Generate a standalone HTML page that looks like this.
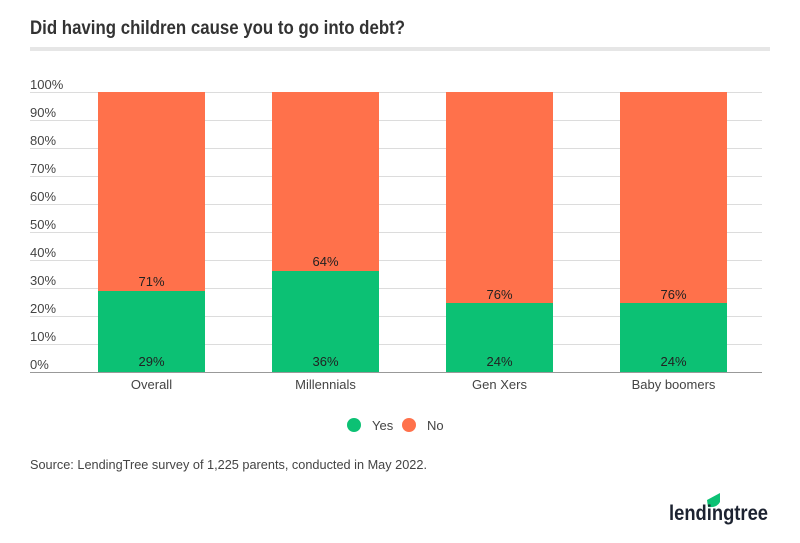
<!DOCTYPE html>
<html><head><style>
body{margin:0;width:800px;height:538px;background:#fff;font-family:"Liberation Sans",sans-serif;overflow:hidden}
</style></head><body>
<svg width="800" height="538" xmlns="http://www.w3.org/2000/svg" font-family="Liberation Sans, sans-serif">
<text x="30" y="34" font-size="19" font-weight="bold" fill="#333" textLength="375" lengthAdjust="spacingAndGlyphs">Did having children cause you to go into debt?</text>
<rect x="30" y="47" width="740" height="4" fill="#e6e6e6"/>
<g stroke="#dcdcdc" stroke-width="1">
<line x1="30" x2="762" y1="92.5" y2="92.5"/><line x1="30" x2="762" y1="120.5" y2="120.5"/>
<line x1="30" x2="762" y1="148.5" y2="148.5"/><line x1="30" x2="762" y1="176.5" y2="176.5"/>
<line x1="30" x2="762" y1="204.5" y2="204.5"/><line x1="30" x2="762" y1="232.5" y2="232.5"/>
<line x1="30" x2="762" y1="260.5" y2="260.5"/><line x1="30" x2="762" y1="288.5" y2="288.5"/>
<line x1="30" x2="762" y1="316.5" y2="316.5"/><line x1="30" x2="762" y1="344.5" y2="344.5"/>
</g>
<g font-size="13" fill="#444">
<text x="30" y="89">100%</text><text x="30" y="117">90%</text><text x="30" y="145">80%</text>
<text x="30" y="173">70%</text><text x="30" y="201">60%</text><text x="30" y="229">50%</text>
<text x="30" y="257">40%</text><text x="30" y="285">30%</text><text x="30" y="313">20%</text>
<text x="30" y="341">10%</text><text x="30" y="369">0%</text>
</g>
<g>
<rect x="98" y="92" width="107" height="199" fill="#ff714b"/><rect x="98" y="291" width="107" height="81" fill="#0cc174"/>
<rect x="272" y="92" width="107" height="179" fill="#ff714b"/><rect x="272" y="271" width="107" height="101" fill="#0cc174"/>
<rect x="446" y="92" width="107" height="211" fill="#ff714b"/><rect x="446" y="303" width="107" height="69" fill="#0cc174"/>
<rect x="620" y="92" width="107" height="211" fill="#ff714b"/><rect x="620" y="303" width="107" height="69" fill="#0cc174"/>
</g>
<line x1="30" x2="762" y1="372.5" y2="372.5" stroke="#999"/>
<g font-size="13" fill="#222" text-anchor="middle">
<text x="151.5" y="286">71%</text><text x="151.5" y="366">29%</text>
<text x="325.5" y="266">64%</text><text x="325.5" y="366">36%</text>
<text x="499.5" y="299">76%</text><text x="499.5" y="366">24%</text>
<text x="673.5" y="299">76%</text><text x="673.5" y="366">24%</text>
</g>
<g font-size="13" fill="#444" text-anchor="middle">
<text x="151.5" y="389">Overall</text><text x="325.5" y="389">Millennials</text>
<text x="499.5" y="389">Gen Xers</text><text x="673.5" y="389">Baby boomers</text>
</g>
<circle cx="354" cy="425" r="7" fill="#0cc174"/><text x="372" y="430" font-size="13" fill="#444">Yes</text>
<circle cx="409" cy="425" r="7" fill="#ff714b"/><text x="427" y="430" font-size="13" fill="#444">No</text>
<text x="30" y="469" font-size="13" fill="#444" textLength="397" lengthAdjust="spacingAndGlyphs">Source: LendingTree survey of 1,225 parents, conducted in May 2022.</text>
<path d="M707 500 L720 493 L720 502 Q717 508 708 507 Z" fill="#0cc174"/>
<text x="669" y="520" font-size="21" font-weight="bold" fill="#1d2331" textLength="99" lengthAdjust="spacingAndGlyphs">lendingtree</text>
</svg>
</body></html>
